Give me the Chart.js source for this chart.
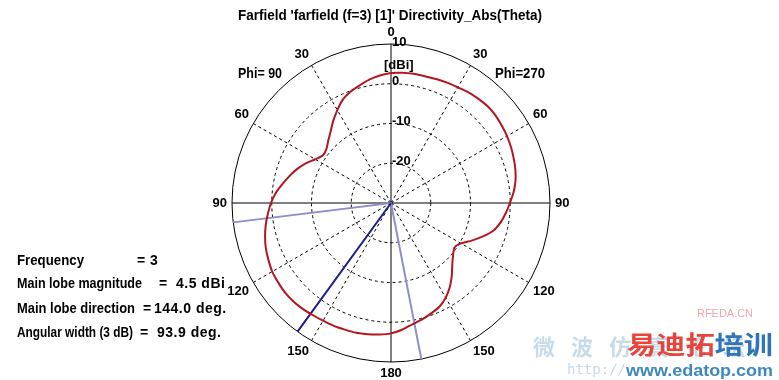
<!DOCTYPE html>
<html lang="en">
<head>
    <meta charset="UTF-8">
    <title>Farfield Directivity_Abs(Theta)</title>
    <script src="https://cdn.jsdelivr.net/npm/chart.js"></script>
    <style>
        html, body {
            margin: 0;
            padding: 0;
            background-color: #ffffff;
            overflow: hidden;
        }
        #wrap {
            position: relative;
            width: 779px;
            height: 380px;
        }
        #wrap canvas {
            position: absolute;
            left: 0;
            top: 0;
        }
        .t {
            position: absolute;
            font: bold 15px "Liberation Sans", Arial, sans-serif;
            line-height: 14px;
            color: #000;
            white-space: pre;
            transform-origin: 0 50%;
        }
        .v {
            font-size: 14px;
            letter-spacing: 0.5px;
        }
        .wm {
            position: absolute;
            white-space: pre;
            line-height: 1;
            transform-origin: 0 50%;
            font-family: "Noto Sans CJK SC", sans-serif;
            font-weight: bold;
        }
    </style>
</head>
<body>

<div id="wrap">
    <canvas id="farfieldChart" width="779" height="380"></canvas>

    <div class="t" style="left:238px; top:8px" data-w="304">Farfield 'farfield (f=3) [1]' Directivity_Abs(Theta)</div>
    <div class="t" style="left:238px; top:66px" data-w="44">Phi= 90</div>
    <div class="t" style="left:495px; top:66px" data-w="50">Phi=270</div>
    <div class="t" style="left:384px; top:58px; font-size:13px">[dBi]</div>

    <div class="t" style="left:17px; top:253px" data-w="67">Frequency</div>
    <div class="t v" style="left:137px; top:253px">= 3</div>
    <div class="t" style="left:17px; top:276px" data-w="125">Main lobe magnitude</div>
    <div class="t v" style="left:159px; top:276px">=</div>
    <div class="t v" style="left:176px; top:276px">4.5 dBi</div>
    <div class="t" style="left:17px; top:301px" data-w="118">Main lobe direction</div>
    <div class="t v" style="left:143px; top:301px">=</div>
    <div class="t v" style="left:154px; top:301px">144.0 deg.</div>
    <div class="t" style="left:17px; top:325px" data-w="116">Angular width (3 dB)</div>
    <div class="t v" style="left:140px; top:325px">=</div>
    <div class="t v" style="left:157px; top:325px">93.9 deg.</div>

    <!-- watermark -->
    <div class="wm" style="left:533px; top:334px; font-size:22px; color:#c6dde9; letter-spacing:16px">微波仿真论坛</div>
    <div class="wm" style="left:567px; top:361px; font:14px 'DejaVu Sans Mono'; color:#c4d9e6">http://</div>
    <div class="wm" style="left:697px; top:307px; font:11px 'Liberation Sans'; color:#f2a4ac" data-w="56">RFEDA.CN</div>
    <div class="wm" style="left:627px; top:331px; font-size:25px" data-w="146"><span style="color:#e8443c">易迪拓</span><span style="color:#2f73bb">培训</span></div>
    <div class="wm" style="left:626px; top:361px; font:bold 17px 'Liberation Sans'; color:#3d88be" data-w="147">www.edatop.com</div>
</div>

<script>
    // directivity cut, dBi, every 5 deg of theta from 0 to 180
    const thetaStep = 5;
    const phi270Db = [2.7, 2.9, 3.0, 3.0, 3.2, 3.4, 3.6, 4.0, 4.2, 4.4,
                      4.3, 4.0, 3.7, 3.3, 2.85, 2.4, 1.8, 0.95, -0.1, -1.0,
                      -2.0, -3.3, -5.4, -7.6, -9.7, -10.5, -9.6, -8.2, -6.2, -4.2,
                      -2.5, -1.2, -0.45, 0.3, 1.0, 2.0, 2.8];
    const phi90Db  = [2.7, 2.2, 1.5, 0.6, -0.2, -1.3, -3.0, -4.7, -6.4, -7.7,
                      -8.8, -9.1, -8.0, -6.35, -4.9, -3.6, -2.3, -0.9, 0.2, 1.1,
                      2.0, 2.8, 3.5, 4.0, 4.5, 4.7, 4.9, 4.9, 4.7, 4.4,
                      4.2, 4.1, 3.9, 3.8, 3.5, 3.2, 2.8];

    const rMin = -30;
    const rMax = 10;
    const rStep = 10;
    const tickValues = [-20, -10, 0, 10];
    const spokeStep = 30;

    const mainLobeDir = 144.0;
    const angularWidth = 93.9;

    // one label per degree, clockwise from the top: right half is Phi=270, left half Phi=90
    const screenAngles = Array.from({ length: 360 }, (_, a) => a);
    const thetaLabels = screenAngles.map(a => String(a <= 180 ? a : 360 - a));

    function curveAt(a) {
        if (a % thetaStep) return null;
        return a <= 180 ? phi270Db[a / thetaStep] : phi90Db[(360 - a) / thetaStep];
    }

    // a ray from the centre out to the rim, theta measured on the Phi=90 side
    function rayData(thetas) {
        const d = screenAngles.map(() => null);
        thetas.forEach(theta => {
            const a = Math.round((720 - theta) % 360);
            d[a] = rMax;
            d[(a + 1) % 360] = rMin;
        });
        return d;
    }

    const tickLabelPlugin = {
        id: 'tickLabels',
        afterDraw(chart) {
            const s = chart.scales.r;
            const c = chart.ctx;
            c.save();
            c.font = 'bold 13px "Liberation Sans", Arial, sans-serif';
            c.fillStyle = '#000';
            c.textAlign = 'left';
            c.textBaseline = 'middle';
            tickValues.forEach(v => {
                c.fillText(String(v), s.xCenter + 1, s.yCenter - s.getDistanceFromCenterForValue(v) - 2);
            });
            c.restore();
        }
    };

    const ctx = document.getElementById('farfieldChart').getContext('2d');
    new Chart(ctx, {
        type: 'radar',
        data: {
            labels: thetaLabels,
            datasets: [{
                data: screenAngles.map(curveAt),
                borderColor: '#b4161e',
                borderWidth: 2,
                tension: 0.25,
                spanGaps: true,
                fill: false,
                pointRadius: 0
            }, {
                data: rayData([mainLobeDir]),
                borderColor: '#1e1e8c',
                borderWidth: 2,
                tension: 0,
                spanGaps: true,
                fill: false,
                pointRadius: 0
            }, {
                data: rayData([mainLobeDir - angularWidth / 2, mainLobeDir + angularWidth / 2]),
                borderColor: '#8e8ecc',
                borderWidth: 2,
                tension: 0,
                spanGaps: true,
                fill: false,
                pointRadius: 0
            }]
        },
        options: {
            responsive: false,
            animation: false,
            layout: {
                padding: { top: 26, bottom: 0, left: 4, right: 0 }
            },
            plugins: {
                legend: { display: false },
                tooltip: { enabled: false }
            },
            scales: {
                r: {
                    min: rMin,
                    max: rMax,
                    ticks: { stepSize: rStep, display: false },
                    grid: { circular: true, color: '#000', lineWidth: 1 },
                    border: {
                        dash: c => (c.tick && c.tick.value === rMax) ? [] : [3, 3]
                    },
                    angleLines: {
                        color: '#000',
                        lineWidth: c => c.index % spokeStep === 0 ? 1 : 0,
                        borderDash: c => c.index % 90 === 0 ? [] : [3, 3]
                    },
                    pointLabels: {
                        padding: 5,
                        color: '#000',
                        font: { family: 'Liberation Sans', weight: 'bold', size: 13, lineHeight: 1 },
                        callback: (label, i) => i % spokeStep === 0 ? label : ''
                    }
                }
            }
        },
        plugins: [tickLabelPlugin]
    });

    // squeeze the texts to the widths they have in the picture
    document.querySelectorAll('[data-w]').forEach(el => {
        const w = el.getBoundingClientRect().width;
        el.style.transform = 'scaleX(' + (el.dataset.w / w) + ')';
    });
</script>

</body>
</html>
